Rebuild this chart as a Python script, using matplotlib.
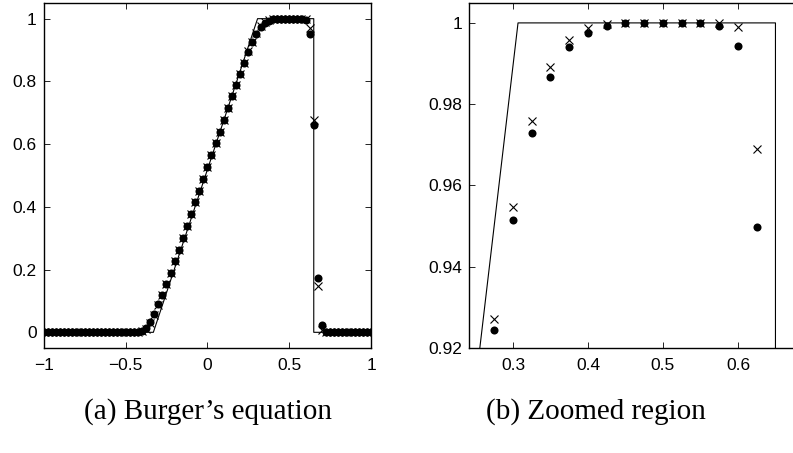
import numpy as np
import matplotlib
matplotlib.use("Agg")
import matplotlib.pyplot as plt

# nodos de la malla (paso 0.025)
x_nodos = np.linspace(-1, 1, 81)

# solucion exacta
x_exacta = [-1.0, -0.33, 0.3067, 0.65, 0.65, 1.0]
u_exacta = [0.0, 0.0, 1.0, 1.0, 0.0, 0.0]

# esquema 1 (puntos)
u_puntos = ([0.0] * 23 +
            [0.001, 0.005, 0.013, 0.034, 0.059, 0.089, 0.120, 0.154, 0.190, 0.228,
             0.263, 0.300, 0.339, 0.377, 0.414, 0.451, 0.489, 0.527, 0.565, 0.603,
             0.640, 0.677, 0.714, 0.754, 0.789, 0.823, 0.858, 0.895, 0.9244, 0.9516,
             0.9728, 0.9866, 0.9940, 0.9976, 0.9993, 0.9999, 1.0, 1.0, 1.0, 1.0,
             0.9993, 0.9943, 0.9498, 0.660, 0.173, 0.023, 0.002] +
            [0.0] * 11)

# esquema 2 (cruces)
u_cruces = ([0.0] * 23 +
            [0.001, 0.004, 0.011, 0.030, 0.056, 0.087, 0.119, 0.153, 0.189, 0.227,
             0.263, 0.300, 0.339, 0.377, 0.414, 0.451, 0.489, 0.527, 0.565, 0.603,
             0.640, 0.678, 0.715, 0.755, 0.790, 0.825, 0.860, 0.897, 0.9271, 0.9547,
             0.9759, 0.9891, 0.9957, 0.9987, 0.9997, 1.0, 1.0, 1.0, 1.0, 1.0,
             1.0, 0.9991, 0.969, 0.676, 0.148, 0.006, 0.0] +
            [0.0] * 11)

plt.rcParams['font.family'] = ['Liberation Sans', 'DejaVu Sans']

fig = plt.figure(figsize=(7.93, 4.53), dpi=100)
ax1 = fig.add_axes([0.0551, 0.2318, 0.4128, 0.7616])
ax2 = fig.add_axes([0.5914, 0.2318, 0.4174, 0.7616])

for ax in (ax1, ax2):
    ax.plot(x_exacta, u_exacta, color="black", lw=0.8, zorder=2)
    ax.plot(x_nodos, u_cruces, "x", color="black", ms=6, mew=0.8, zorder=3)
    ax.plot(x_nodos, u_puntos, "o", color="black", ms=5.8, mew=0, zorder=4)
    ax.tick_params(direction="in", top=True, right=True, length=4, width=0.6,
                   labelsize=12.5)
    ax.tick_params(axis="x", pad=7)
    ax.tick_params(axis="y", pad=5)
    for s in ax.spines.values():
        s.set_linewidth(1.0)

ax1.set_xlim(-1, 1)
ax1.set_ylim(-0.05, 1.05)
ax1.set_xticks([-1, -0.5, 0, 0.5, 1])
ax1.set_xticklabels(["\u22121", "\u22120.5", "0", "0.5", "1"])
ax1.set_yticks([0, 0.2, 0.4, 0.6, 0.8, 1])
ax1.set_yticklabels(["0", "0.2", "0.4", "0.6", "0.8", "1"])

ax2.set_xlim(0.2413, 0.6827)
ax2.set_ylim(0.92, 1.0049)
ax2.set_xticks([0.3, 0.4, 0.5, 0.6])
ax2.set_xticklabels(["0.3", "0.4", "0.5", "0.6"])
ax2.set_yticks([0.92, 0.94, 0.96, 0.98, 1])
ax2.set_yticklabels(["0.92", "0.94", "0.96", "0.98", "1"])

fig.text(208 / 793, 1 - 412 / 453, "(a) Burger\u2019s equation", ha="center", va="center",
         fontsize=21, family=["Liberation Serif", "DejaVu Serif"])
fig.text(596 / 793, 1 - 412 / 453, "(b) Zoomed region", ha="center", va="center",
         fontsize=21, family=["Liberation Serif", "DejaVu Serif"])

fig.savefig("out.png", dpi=100)
